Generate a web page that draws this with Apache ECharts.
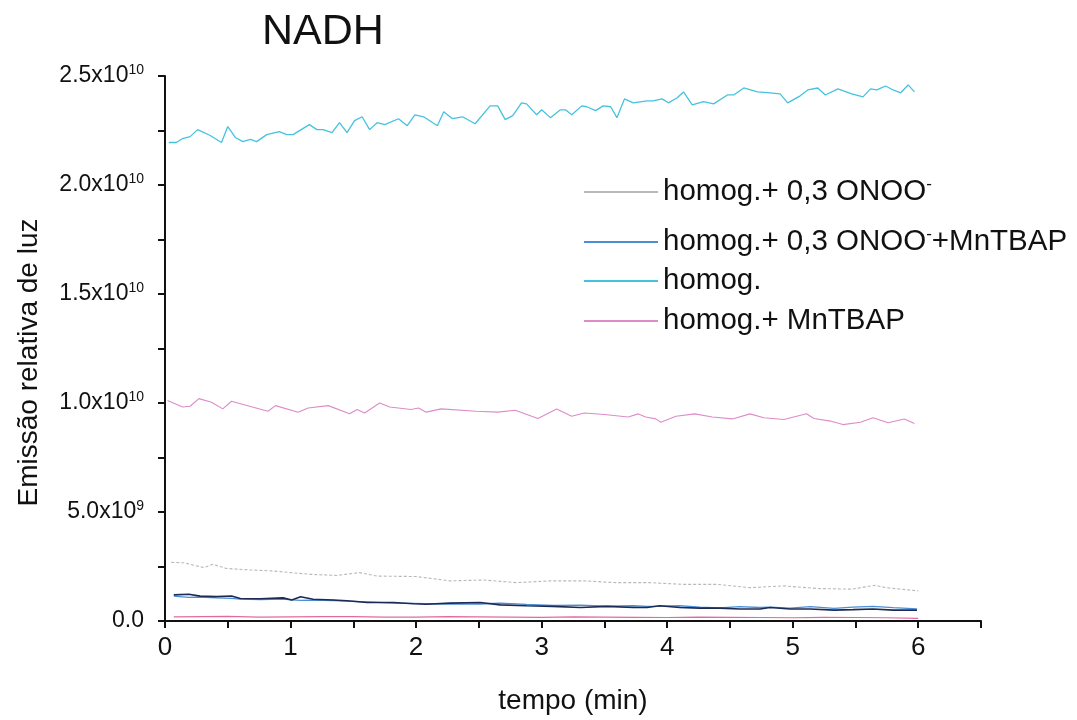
<!DOCTYPE html>
<html>
<head>
<meta charset="UTF-8">
<title>NADH</title>
<script src="https://cdn.jsdelivr.net/npm/echarts@6/dist/echarts.min.js"></script>
<style>
  html, body { margin: 0; padding: 0; background: #fff; }
  #chart { width: 1077px; height: 720px; }
</style>
</head>
<body>
<div id="chart"></div>
<script>
// values, y in units of 1e10
var SCALE = 1e10;

var homog = [[0.03,2.195],[0.09,2.195],[0.14,2.213],[0.20,2.222],[0.26,2.254],[0.36,2.227],[0.45,2.195],[0.50,2.268],[0.56,2.218],[0.62,2.199],
  [0.68,2.209],[0.73,2.199],[0.81,2.231],[0.91,2.245],[0.97,2.231],[1.02,2.231],[1.15,2.277],[1.21,2.254],[1.26,2.254],[1.33,2.240],
  [1.39,2.286],[1.45,2.240],[1.51,2.295],[1.57,2.313],[1.63,2.254],[1.69,2.286],[1.75,2.277],[1.86,2.304],[1.93,2.272],[1.99,2.322],
  [2.06,2.313],[2.17,2.272],[2.22,2.336],[2.29,2.304],[2.37,2.313],[2.47,2.281],[2.59,2.363],[2.65,2.363],[2.71,2.300],[2.77,2.318],
  [2.84,2.377],[2.88,2.372],[2.96,2.322],[3.00,2.345],[3.07,2.309],[3.15,2.345],[3.19,2.345],[3.24,2.322],[3.32,2.363],[3.36,2.359],
  [3.43,2.341],[3.49,2.363],[3.55,2.359],[3.60,2.309],[3.66,2.395],[3.73,2.377],[3.84,2.386],[3.89,2.386],[3.96,2.395],[4.01,2.377],
  [4.08,2.400],[4.13,2.427],[4.20,2.368],[4.29,2.382],[4.37,2.372],[4.48,2.413],[4.53,2.413],[4.61,2.445],[4.72,2.427],[4.82,2.423],
  [4.90,2.418],[4.96,2.377],[5.06,2.409],[5.12,2.436],[5.20,2.445],[5.26,2.413],[5.36,2.441],[5.47,2.418],[5.56,2.404],[5.62,2.441],
  [5.67,2.436],[5.74,2.454],[5.80,2.436],[5.86,2.423],[5.92,2.459],[5.97,2.427]];

var homogMn = [[0.02,1.012],[0.14,0.982],[0.20,0.985],[0.27,1.020],[0.37,1.003],[0.46,0.973],[0.53,1.008],[0.63,0.992],[0.82,0.962],[0.88,0.988],
  [1.06,0.958],[1.14,0.977],[1.30,0.988],[1.47,0.951],[1.53,0.970],[1.59,0.954],[1.71,1.000],[1.79,0.982],[1.96,0.970],[2.02,0.977],
  [2.08,0.958],[2.20,0.973],[2.48,0.962],[2.65,0.958],[2.79,0.967],[2.97,0.929],[3.12,0.973],[3.24,0.939],[3.34,0.954],[3.50,0.947],
  [3.69,0.936],[3.77,0.950],[3.83,0.936],[3.91,0.927],[3.95,0.912],[4.07,0.939],[4.22,0.950],[4.36,0.936],[4.52,0.927],[4.66,0.950],
  [4.77,0.932],[4.93,0.924],[5.11,0.951],[5.17,0.929],[5.30,0.917],[5.40,0.901],[5.54,0.912],[5.64,0.932],[5.76,0.909],[5.89,0.927],
  [5.97,0.906]];

var onoo = [[0.05,0.269],[0.15,0.267],[0.31,0.245],[0.38,0.260],[0.49,0.241],[0.68,0.234],[0.85,0.230],[1.00,0.222],[1.16,0.214],[1.37,0.209],
  [1.55,0.222],[1.69,0.206],[2.00,0.204],[2.27,0.184],[2.54,0.188],[2.80,0.176],[3.07,0.184],[3.33,0.184],[3.60,0.176],[3.86,0.176],
  [4.13,0.168],[4.40,0.168],[4.66,0.153],[4.93,0.161],[5.20,0.149],[5.47,0.146],[5.66,0.164],[5.74,0.153],[6.00,0.138]];

var onooMn = [[0.07,0.114],[0.19,0.108],[0.28,0.110],[0.41,0.106],[0.53,0.104],[0.60,0.100],[0.76,0.098],[0.94,0.100],[1.01,0.097],[1.08,0.095],
  [1.18,0.096],[1.34,0.094],[1.45,0.091],[1.61,0.088],[1.82,0.082],[1.98,0.081],[2.08,0.080],[2.27,0.078],[2.51,0.078],[2.67,0.082],
  [2.88,0.076],[3.09,0.072],[3.31,0.073],[3.52,0.068],[3.73,0.070],[3.84,0.067],[3.94,0.068],[4.10,0.070],[4.26,0.064],[4.42,0.060],
  [4.58,0.066],[4.74,0.062],[4.82,0.064],[4.98,0.059],[5.14,0.066],[5.33,0.058],[5.48,0.064],[5.64,0.067],[5.80,0.061],[5.99,0.056]];

var onooMnB = [[0.07,0.120],[0.19,0.123],[0.28,0.114],[0.41,0.112],[0.53,0.115],[0.60,0.103],[0.76,0.102],[0.94,0.106],[1.01,0.096],[1.08,0.111],
  [1.18,0.100],[1.34,0.096],[1.45,0.093],[1.61,0.085],[1.82,0.085],[1.98,0.079],[2.08,0.077],[2.27,0.082],[2.51,0.085],[2.67,0.074],
  [2.88,0.070],[3.09,0.067],[3.31,0.062],[3.52,0.067],[3.73,0.062],[3.84,0.062],[3.94,0.070],[4.10,0.062],[4.26,0.059],[4.42,0.059],
  [4.58,0.055],[4.74,0.055],[4.82,0.062],[4.98,0.055],[5.14,0.055],[5.33,0.050],[5.48,0.052],[5.64,0.055],[5.80,0.050],[5.99,0.050]];

var homogMnB = [[0.07,0.019],[0.30,0.020],[0.50,0.021],[0.75,0.018],[1.00,0.019],[1.25,0.020],[1.50,0.020],[1.75,0.018],[2.00,0.018],[2.25,0.020],
  [2.50,0.019],[2.75,0.018],[3.00,0.017],[3.25,0.019],[3.50,0.018],[3.75,0.017],[4.00,0.016],[4.25,0.018],[4.50,0.017],[4.75,0.016],
  [5.00,0.015],[5.25,0.017],[5.50,0.016],[5.75,0.015],[6.00,0.012]];

var legendNames = ['homog.+ 0,3 ONOO-', 'homog.+ 0,3 ONOO-+MnTBAP', 'homog.', 'homog.+ MnTBAP'];
var legendTops = [171, 221, 261, 301];
var yTickLabels = {0: '{a|0.0}', 5: '{a|5.0x10}{s|9}', 10: '{a|1.0x10}{s|10}', 15: '{a|1.5x10}{s|10}', 20: '{a|2.0x10}{s|10}', 25: '{a|2.5x10}{s|10}'};

function toData(arr) {
  return arr.map(function(p) { return [p[0], p[1] * SCALE]; });
}

function line(name, data, color, width, type) {
  return {
    name: name, type: 'line', data: toData(data), showSymbol: false, symbol: 'none',
    animation: false, z: 2,
    lineStyle: { color: color, width: width, type: type || 'solid' },
    itemStyle: { color: color }
  };
}

var font = '"Liberation Sans", Arial, sans-serif';

var legends = legendNames.map(function(n, i) {
  return {
    data: [n], left: 579, top: legendTops[i], orient: 'vertical',
    itemWidth: 74, itemHeight: 14, itemGap: 0, icon: 'path://M0,6 L74,6 L74,8 L0,8 Z',
    selectedMode: false,
    formatter: function(name) {
      return name.replace(/ONOO-/, 'ONOO{s|-}');
    },
    textStyle: {
      fontFamily: font, fontSize: 29.5, color: '#111', padding: [0, 0, 0, 0],
      rich: { s: { fontSize: 17, verticalAlign: 'top', padding: [0, 0, 15, 0] } }
    }
  };
});

var chart = echarts.init(document.getElementById('chart'), null, { renderer: 'canvas' });
chart.setOption({
  backgroundColor: '#fff',
  animation: false,
  title: {
    text: 'NADH', left: 257, top: 6,
    textStyle: { fontFamily: font, fontSize: 43, fontWeight: 'normal', color: '#111' }
  },
  legend: legends,
  grid: { left: 165, right: 96, top: 76, bottom: 99, containLabel: false },
  xAxis: {
    type: 'value', min: 0, max: 6.5, interval: 0.5,
    name: 'tempo (min)', nameLocation: 'middle', nameGap: 66,
    nameTextStyle: { fontFamily: font, fontSize: 28, color: '#111' },
    axisLine: { onZero: false, lineStyle: { color: '#111', width: 2 } },
    axisTick: { show: true, inside: false, length: 7, lineStyle: { color: '#111', width: 2 } },
    axisLabel: {
      fontFamily: font, fontSize: 26, color: '#111', margin: 14, interval: 0, showMaxLabel: true,
      formatter: function(v) { return (Math.abs(v - Math.round(v)) < 1e-9 && v <= 6) ? String(Math.round(v)) : ''; }
    },
    splitLine: { show: false }
  },
  yAxis: {
    type: 'value', min: 0, max: 2.5e10, interval: 2.5e9,
    name: 'Emissão relativa de luz', nameLocation: 'middle', nameGap: 122,
    nameTextStyle: { fontFamily: font, fontSize: 28, color: '#111', padding: [0, 0, 0, -28] },
    axisLine: { onZero: false, lineStyle: { color: '#111', width: 2 } },
    axisTick: { show: true, inside: false, length: 7, lineStyle: { color: '#111', width: 2 } },
    axisLabel: {
      fontFamily: font, fontSize: 23, color: '#111', margin: 21, interval: 0,
      formatter: function(v) {
        var k = Math.round(v / 1e9);
        return (k % 5 === 0 && yTickLabels[k] !== undefined) ? yTickLabels[k] : '';
      },
      rich: {
        a: { fontFamily: font, fontSize: 23, color: '#111' },
        s: { fontFamily: font, fontSize: 14, color: '#111', verticalAlign: 'top', padding: [0, 0, 12, 0] }
      }
    },
    splitLine: { show: false }
  },
  series: [
    line('homog.', homog, '#45c3dd', 1.3),
    line('homog.+ MnTBAP', homogMn, '#dd8cc8', 1.1),
    line('homog.+ 0,3 ONOO-', onoo, '#b9b9b9', 1.1, [3, 2]),
    line('homog.+ 0,3 ONOO-+MnTBAP', onooMn, '#4a8fd6', 1.3),
    line('homog.+ 0,3 ONOO-+MnTBAP (b)', onooMnB, '#1c2a55', 1.6),
    line('homog.+ MnTBAP (b)', homogMnB, '#e06aa4', 1.2)
  ]
});
</script>
</body>
</html>
